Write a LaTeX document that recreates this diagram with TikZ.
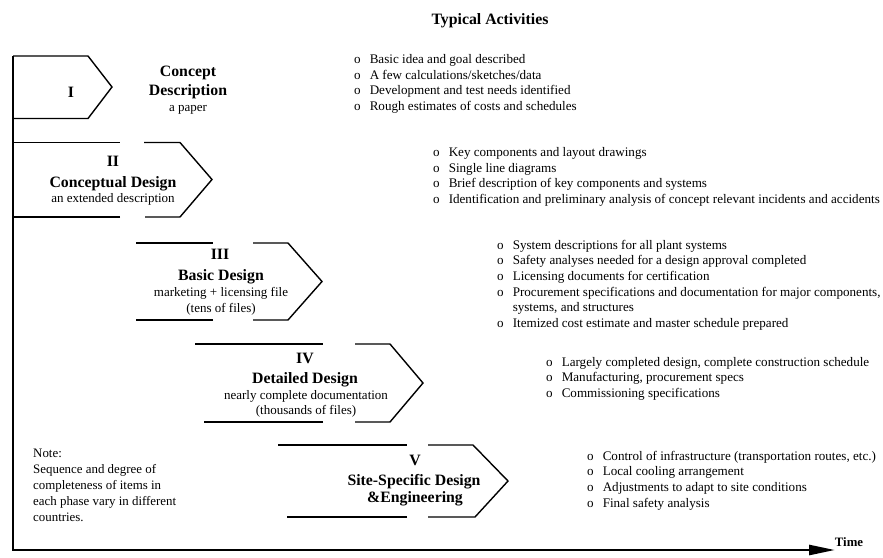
\documentclass[tikz,border=0pt]{standalone}
\usepackage{fontspec}
\setmainfont{Liberation Serif}
\usetikzlibrary{arrows.meta}
\begin{document}
\begin{tikzpicture}[x=1pt,y=-1pt,
  chev/.style={line width=1.4pt, line join=miter},
  axisline/.style={line width=2.6pt, line join=miter},
  ttl/.style={font=\fontsize{15.8}{18}\selectfont\bfseries, anchor=base, inner sep=0pt},
  subt/.style={font=\fontsize{13}{15.7}\selectfont, anchor=base, inner sep=0pt},
  lst/.style={font=\fontsize{13.1}{15.7}\selectfont, anchor=base west, inner sep=0pt},
]
\useasboundingbox (0,0) rectangle (883,557);

% axes
\coordinate (top) at (13,56);
\coordinate (origin) at (13,550);
\coordinate (tip) at (835,550);
\draw[axisline,-{Triangle[length=26pt,width=10pt]}] (top) -- (origin) -- (tip);
\node[ttl, font=\fontsize{12.8}{15}\selectfont\bfseries] (time) at (849,546) {Time};
\node[ttl] (head) at (490,24) {Typical Activities};

% chevron I
\draw[chev] (13,56) -- (88,56) -- (112,87) -- (88,118.5) -- (13,118.5);
\node[ttl] (n1) at (71,97) {I};
\node[ttl] (t1a) at (188,76) {Concept};
\node[ttl] (t1b) at (188,95) {Description};
\node[subt] (s1) at (188,111) {a paper};

% chevron II
\draw[chev] (13,142.5) -- (120,142.5);
\draw[chev] (144,142.5) -- (180,142.5) -- (212,179.5) -- (180,217) -- (145,217);
\draw[chev] (120,217) -- (13,217);
\node[ttl] (n2) at (113,166) {II};
\node[ttl] (t2) at (113,187) {Conceptual Design};
\node[subt] (s2) at (113,202) {an extended description};

% chevron III
\draw[chev] (136,243) -- (213,243);
\draw[chev] (253,243) -- (288,243) -- (322,281.5) -- (288,320) -- (253,320);
\draw[chev] (213,320) -- (136,320);
\node[ttl] (n3) at (220,259) {III};
\node[ttl] (t3) at (221,280) {Basic Design};
\node[subt] (s3a) at (221,296.5) {marketing + licensing file};
\node[subt] (s3b) at (221,312.5) {(tens of files)};

% chevron IV
\draw[chev] (195,344) -- (323,344);
\draw[chev] (355,344) -- (390,344) -- (423,383) -- (390,422) -- (355,422);
\draw[chev] (323,422) -- (204,422);
\node[ttl] (n4) at (305,363) {IV};
\node[ttl] (t4) at (305,383) {Detailed Design};
\node[subt] (s4a) at (306,399) {nearly complete documentation};
\node[subt] (s4b) at (306,414.5) {(thousands of files)};

% chevron V
\draw[chev] (278,445) -- (407,445);
\draw[chev] (428,445) -- (473,445) -- (508,481) -- (475,517) -- (428,517);
\draw[chev] (407,517) -- (287,517);
\node[ttl] (n5) at (415,465) {V};
\node[ttl] (t5a) at (414,485.5) {Site-Specific Design};
\node[ttl] (t5b) at (415,502) {\&Engineering};

% note
\node[lst, font=\fontsize{12.9}{16}\selectfont] (note) at (33,457) {%
  \begin{tabular}[t]{@{}l@{}}Note:\\ Sequence and degree of\\ completeness of items in\\ each phase vary in different\\ countries.\end{tabular}};

% activity lists
\node[lst] (a1) at (354,63.5) {%
  \begin{tabular}[t]{@{}l@{\hspace{9pt}}l@{}}
  o & Basic idea and goal described\\
  o & A few calculations/sketches/data\\
  o & Development and test needs identified\\
  o & Rough estimates of costs and schedules
  \end{tabular}};
\node[lst] (a2) at (433,156.5) {%
  \begin{tabular}[t]{@{}l@{\hspace{9pt}}l@{}}
  o & Key components and layout drawings\\
  o & Single line diagrams\\
  o & Brief description of key components and systems\\
  o & Identification and preliminary analysis of concept relevant incidents and accidents
  \end{tabular}};
\node[lst] (a3) at (497,249) {%
  \begin{tabular}[t]{@{}l@{\hspace{9pt}}l@{}}
  o & System descriptions for all plant systems\\
  o & Safety analyses needed for a design approval completed\\
  o & Licensing documents for certification\\
  o & Procurement specifications and documentation for major components,\\
    & systems, and structures\\
  o & Itemized cost estimate and master schedule prepared
  \end{tabular}};
\node[lst] (a4) at (546,366) {%
  \begin{tabular}[t]{@{}l@{\hspace{9pt}}l@{}}
  o & Largely completed design, complete construction schedule\\
  o & Manufacturing, procurement specs\\
  o & Commissioning specifications
  \end{tabular}};
\node[lst] (a5) at (587,460) {%
  \begin{tabular}[t]{@{}l@{\hspace{9pt}}l@{}}
  o & Control of infrastructure (transportation routes, etc.)\\
  o & Local cooling arrangement\\
  o & Adjustments to adapt to site conditions\\
  o & Final safety analysis
  \end{tabular}};
\end{tikzpicture}
\end{document}
